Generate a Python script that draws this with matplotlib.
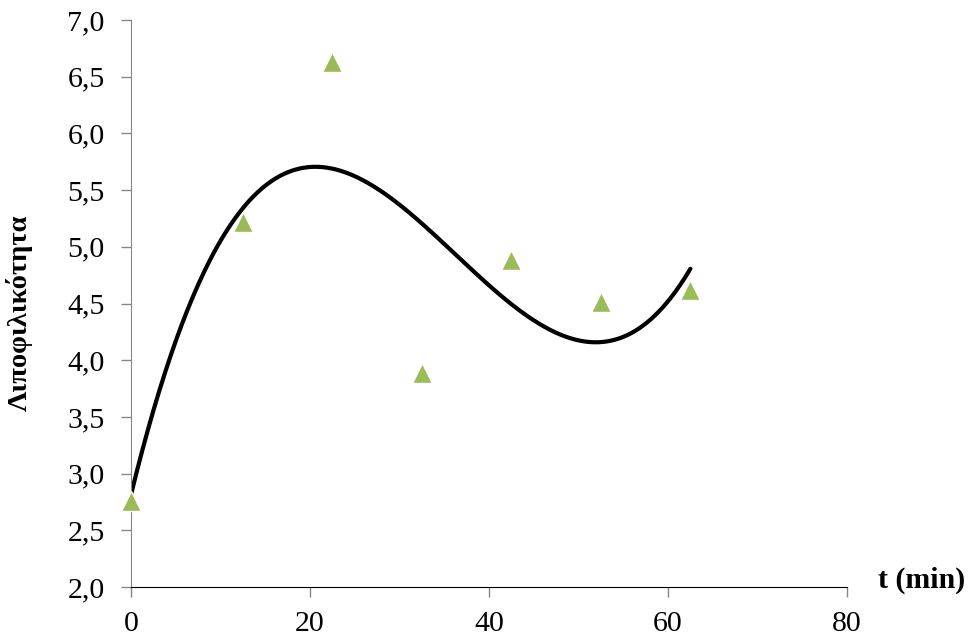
import numpy as np
import matplotlib.pyplot as plt

t = [0, 12.5, 22.5, 32.5, 42.5, 52.5, 62.5]
lipo = [2.76, 5.22, 6.63, 3.89, 4.88, 4.51, 4.62]
xticks = [0, 20, 40, 60, 80]
yticks = [2.0, 2.5, 3.0, 3.5, 4.0, 4.5, 5.0, 5.5, 6.0, 6.5, 7.0]

plt.rcParams['font.family'] = ['Liberation Serif', 'DejaVu Serif']

fig = plt.figure(figsize=(9.71, 6.44), dpi=100)
ax = fig.add_axes([0.1349, 0.0885, 0.7374, 0.8804])

# cubic trend line (as in the spreadsheet chart)
coef = np.polyfit(t, lipo, 3)
tt = np.linspace(t[0], t[-1], 300)
ax.plot(tt, np.polyval(coef, tt), color='black', lw=3, solid_capstyle='round', zorder=2)
ax.plot(t, lipo, ls='none', marker='^', ms=14, color='#9BBB59', mec='white', mew=1,
        zorder=3, clip_on=False)

ax.set_xlim(0, 80)
ax.set_ylim(2, 7)
ax.set_xticks(xticks)
ax.set_yticks(yticks)
ax.set_yticklabels([('%.1f' % v).replace('.', ',') for v in yticks])
ax.tick_params(labelsize=21.5, length=7, width=1, color='#868686')
ax.tick_params(axis='y', pad=12)
ax.tick_params(axis='x', pad=10)

for s in ['top', 'right']:
    ax.spines[s].set_visible(False)
ax.spines['left'].set_color('#868686')
ax.spines['bottom'].set_color('black')

ax.set_ylabel('Λιποφιλικότητα', fontsize=20.5, fontweight='bold')
ax.yaxis.set_label_coords(-0.137, 0.483)
fig.text(0.9496, 0.099, 't (min)', fontsize=21.5, fontweight='bold', ha='center', va='center')

plt.savefig('out.png', dpi=100)
